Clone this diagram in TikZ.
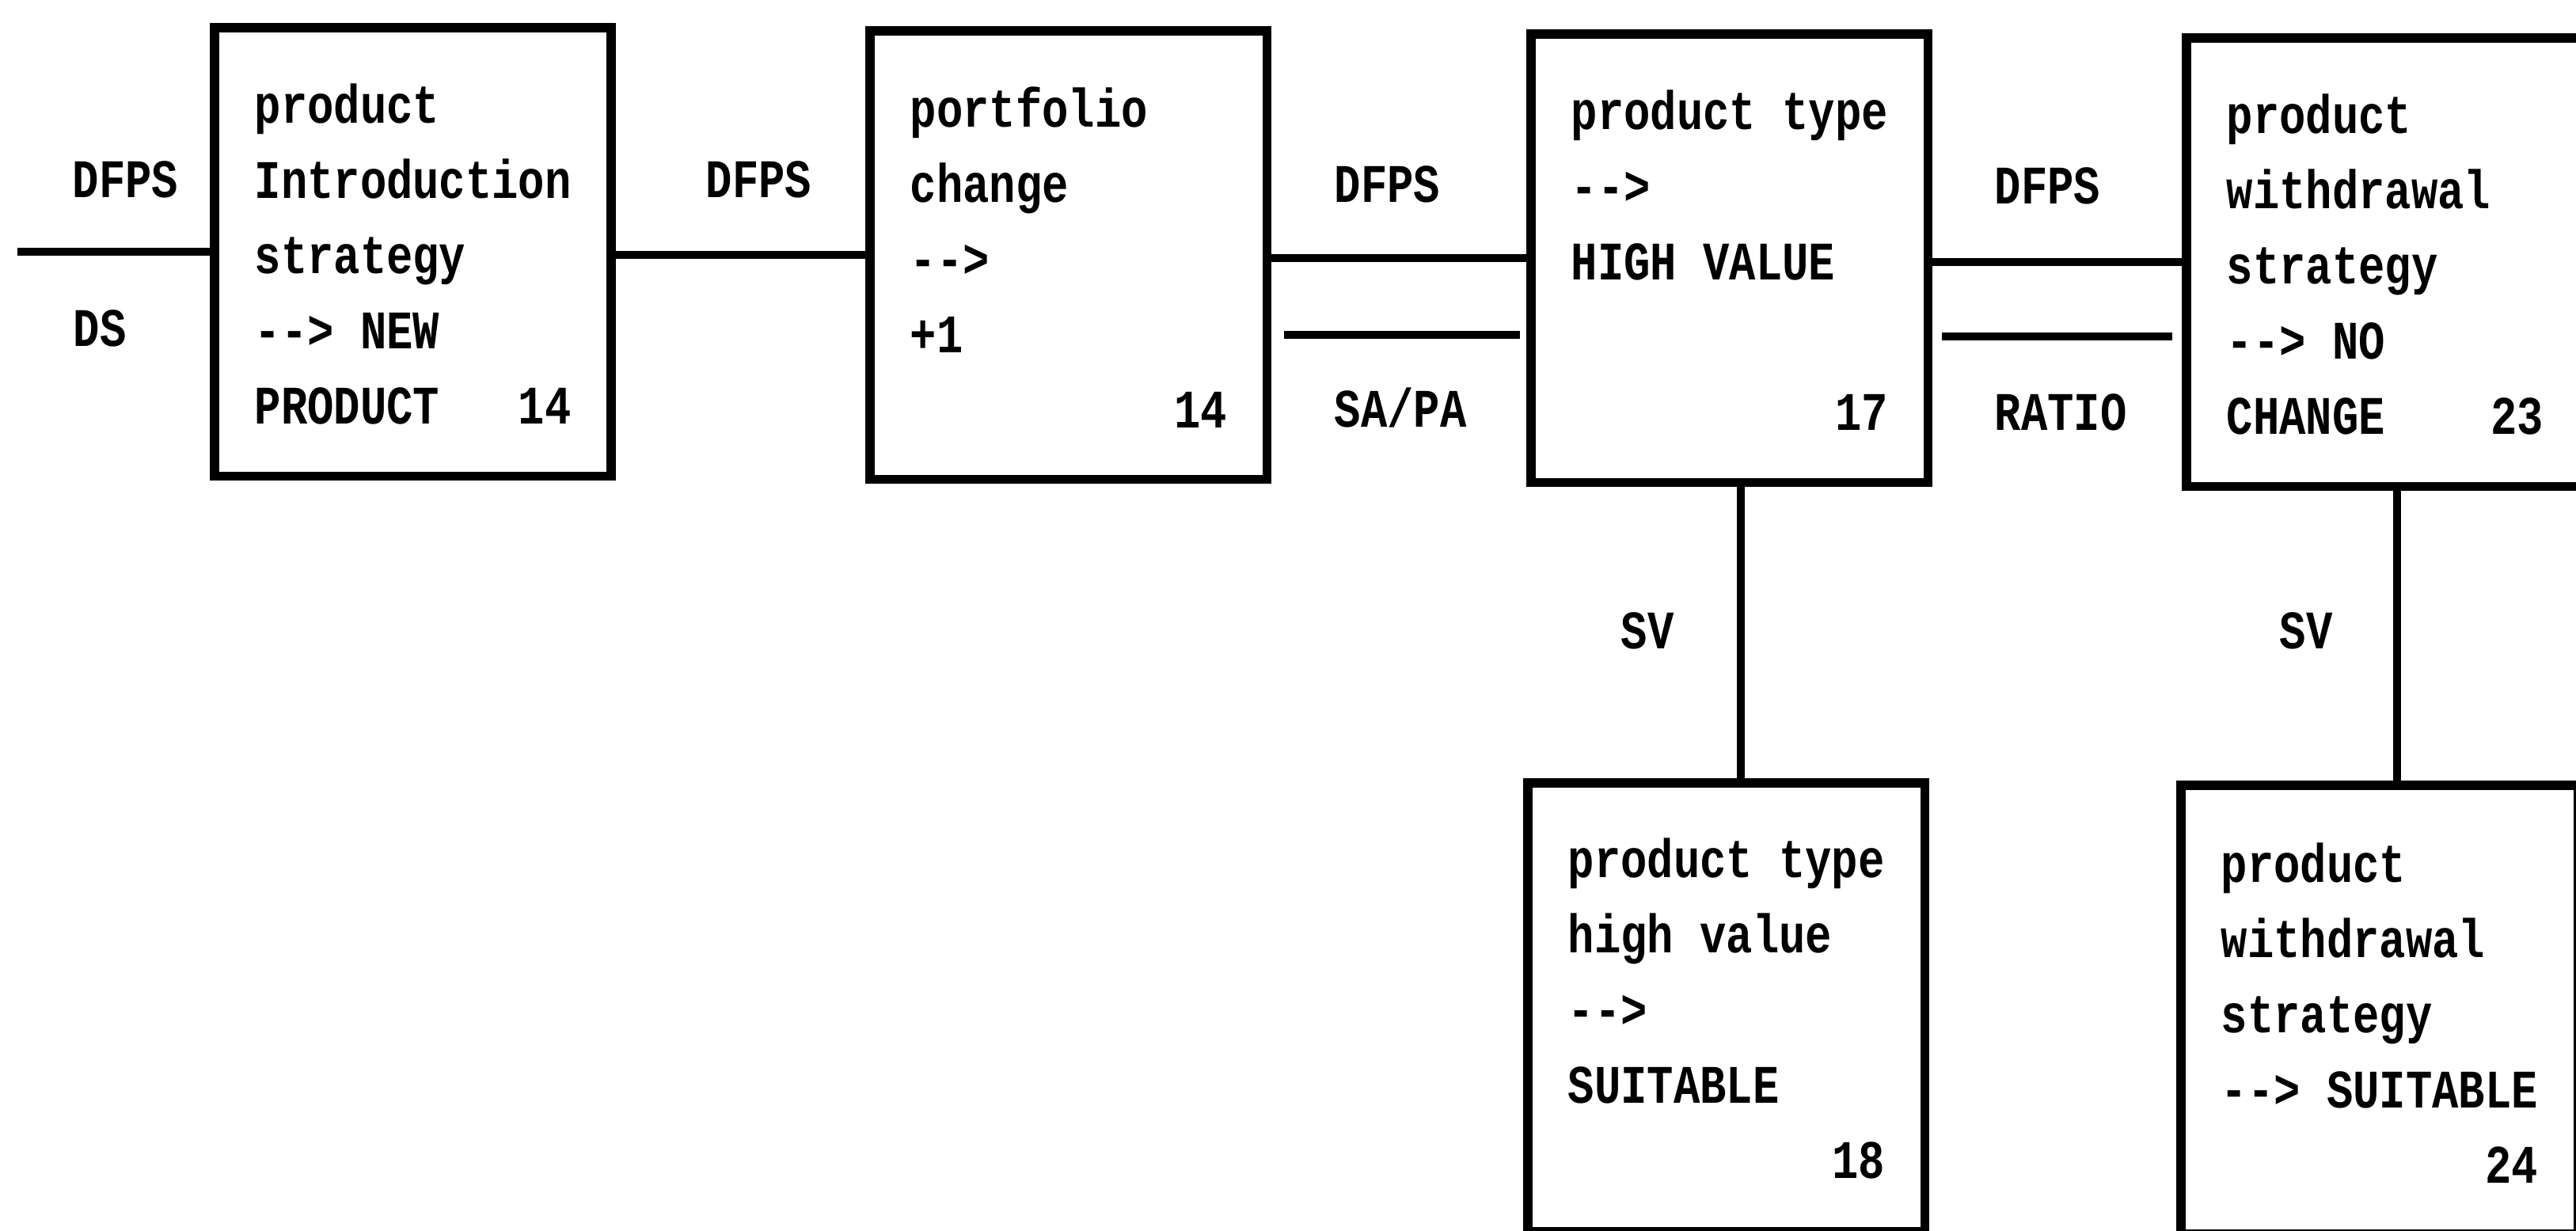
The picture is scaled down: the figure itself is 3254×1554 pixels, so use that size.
\documentclass[tikz,border=0pt]{standalone}
\usepackage{fontspec}
\newfontfamily\boxfont{Liberation Mono}[FakeStretch=0.81]
\usetikzlibrary{calc}
% arrow written as three separate glyphs
\newcommand\arrw{-\kern0pt-\kern0pt>}
% fixed-height strut so the first baseline sits 1cm below the node top
\newcommand\topstrut{\rule{0pt}{1cm}}

\tikzset{
  block/.style={draw, line width=3.3pt, minimum width=5.01cm, minimum height=5.66cm,
    inner sep=0pt, outer sep=0pt, anchor=north west},
  boxtext/.style={anchor=north west, inner sep=0pt, align=left,
    font=\boxfont\bfseries\fontsize{19.5}{27}\selectfont},
  lbl/.style={anchor=base west, inner sep=0pt,
    font=\boxfont\bfseries\fontsize{19.5}{27}\selectfont},
  wire/.style={line width=2.8pt},
}

\begin{document}
\begin{tikzpicture}[x=0.01cm, y=-0.01cm]
\useasboundingbox (0,0) rectangle (3254,1554);
\clip (0,0) rectangle (3254,1554);

% boxes
\node[block] (b1) at (271,35)   {};
\node[block] (b2) at (1099,39)  {};
\node[block] (b3) at (1934,43)  {};
\node[block] (b4) at (2762,48)  {};
\node[block] (b5) at (1930,989) {};
\node[block] (b6) at (2755,992) {};

% box contents
\node[boxtext] (t1) at ($(b1.north west)+(50,20)$)
  {\topstrut product\\Introduction\\strategy\\\arrw{} NEW\\PRODUCT~~~14};
\node[boxtext] (t2) at ($(b2.north west)+(50,21)$)
  {\topstrut portfolio\\change\\\arrw\\+1\\\hphantom{0000000000}14};
\node[boxtext] (t3) at ($(b3.north west)+(50,20)$)
  {\topstrut product type\\\arrw\\HIGH VALUE\\\mbox{}\\\hphantom{0000000000}17};
\node[boxtext] (t4) at ($(b4.north west)+(50,20)$)
  {\topstrut product\\withdrawal\\strategy\\\arrw{} NO\\CHANGE~~~~23};
\node[boxtext] (t5) at ($(b5.north west)+(50,19)$)
  {\topstrut product type\\high value\\\arrw\\SUITABLE\\\hphantom{0000000000}18};
\node[boxtext] (t6) at ($(b6.north west)+(50,22)$)
  {\topstrut product\\withdrawal\\strategy\\\arrw{} SUITABLE\\\hphantom{0000000000}24};

% connectors
\coordinate (in) at (22,318);
\draw[wire] (in) -- (b1.west |- in);
\draw[wire] (b1.east |- b2.west) -- (b2.west);
\draw[wire] (b2.east |- b3.west) -- (b3.west);
\coordinate (s1) at (1622,423);
\coordinate (s2) at (1920,423);
\draw[wire] (s1) -- (s2);
\draw[wire] (b3.east |- b4.west) -- (b4.west);
\coordinate (r1) at (2453,425);
\coordinate (r2) at (2744,425);
\draw[wire] (r1) -- (r2);
\coordinate (v1) at ($(b3.south)+(14,0)$);
\draw[wire] (v1) -- (v1 |- b5.north);
\coordinate (v2) at ($(b4.south)+(15,0)$);
\draw[wire] (v2) -- (v2 |- b6.north);

% connector labels
\node[lbl] (l1) at (91,249)   {DFPS};
\node[lbl] (l2) at (92,437)   {DS};
\node[lbl] (l3) at (891,249)  {DFPS};
\node[lbl] (l4) at (1685,255) {DFPS};
\node[lbl] (l5) at (1685,539) {SA/PA};
\node[lbl] (l6) at (2519,257) {DFPS};
\node[lbl] (l7) at (2519,543) {RATIO};
\node[lbl] (l8) at (2047,819) {SV};
\node[lbl] (l9) at (2879,819) {SV};
\end{tikzpicture}
\end{document}
